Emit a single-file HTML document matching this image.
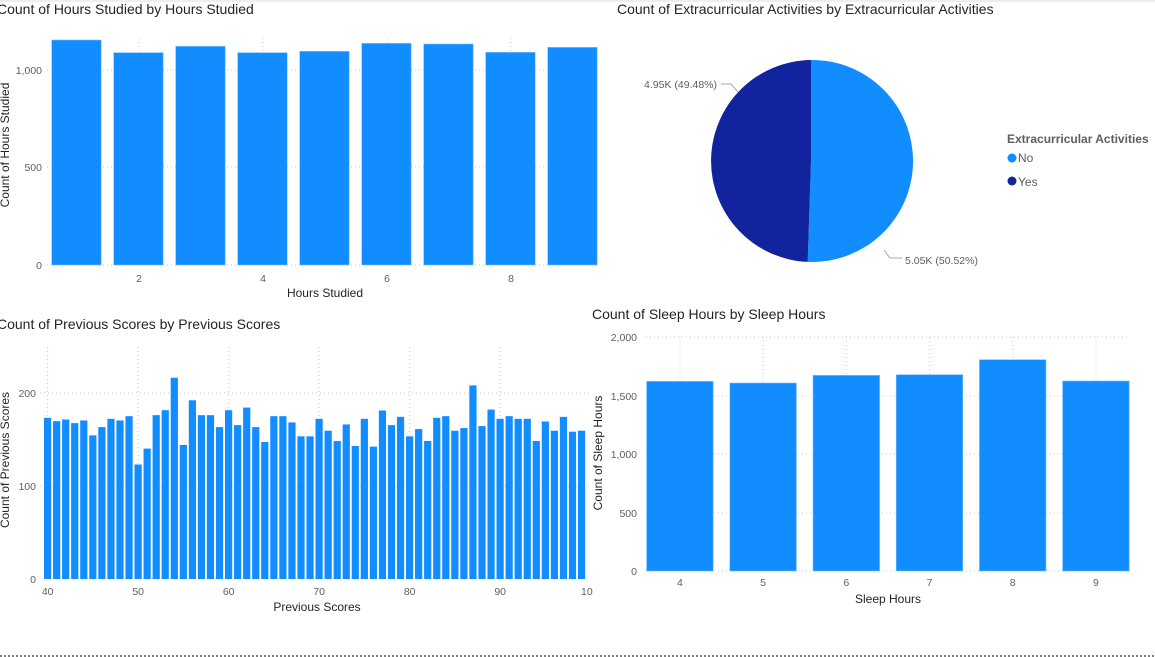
<!DOCTYPE html>
<html><head><meta charset="utf-8">
<style>
html,body{margin:0;padding:0;background:#fff;width:1155px;height:657px;overflow:hidden;font-family:"Liberation Sans",sans-serif;}
svg{display:block}
.t{font-size:14px;fill:#252423}
.k{font-size:10.5px;fill:#605E5C}
.a{font-size:12px;fill:#252423}
.g{stroke:#c8c8c8;stroke-dasharray:1 3;stroke-width:1}
</style></head><body>
<svg id="s" width="1155" height="657" xmlns="http://www.w3.org/2000/svg">
<line x1="0" y1="1" x2="1155" y2="1" stroke="#eeeeee" stroke-width="2"/>
<line x1="0" y1="656" x2="1155" y2="656" stroke="#555" stroke-dasharray="2 2" stroke-width="1.5"/>
<!-- chart 1 -->
<text class="t" x="-3" y="14">Count of Hours Studied by Hours Studied</text>
<g id="c1"></g>
<text class="k" x="42" y="74" text-anchor="end">1,000</text>
<text class="k" x="42" y="171" text-anchor="end">500</text>
<text class="k" x="42" y="269" text-anchor="end">0</text>
<text class="k" x="139" y="320" text-anchor="middle" dy="-38">2</text>
<text class="k" x="263" y="282" text-anchor="middle">4</text>
<text class="k" x="387" y="282" text-anchor="middle">6</text>
<text class="k" x="511" y="282" text-anchor="middle">8</text>
<text class="a" x="325" y="297" text-anchor="middle">Hours Studied</text>
<text class="a" transform="translate(9,145) rotate(-90)" text-anchor="middle">Count of Hours Studied</text>
<!-- chart 3 -->
<text class="t" x="-3" y="329">Count of Previous Scores by Previous Scores</text>
<g id="c3"></g>
<text class="k" x="36" y="397" text-anchor="end">200</text>
<text class="k" x="36" y="490" text-anchor="end">100</text>
<text class="k" x="36" y="583" text-anchor="end">0</text>
<g id="c3x"></g>
<text class="a" x="317" y="611" text-anchor="middle">Previous Scores</text>
<text class="a" transform="translate(9,460) rotate(-90)" text-anchor="middle">Count of Previous Scores</text>
<!-- chart 4 -->
<text class="t" x="592" y="319">Count of Sleep Hours by Sleep Hours</text>
<g id="c4"></g>
<text class="k" x="637" y="341" text-anchor="end">2,000</text>
<text class="k" x="637" y="400" text-anchor="end">1,500</text>
<text class="k" x="637" y="458" text-anchor="end">1,000</text>
<text class="k" x="637" y="517" text-anchor="end">500</text>
<text class="k" x="637" y="575" text-anchor="end">0</text>
<text class="a" x="888" y="603" text-anchor="middle">Sleep Hours</text>
<text class="a" transform="translate(602,453) rotate(-90)" text-anchor="middle">Count of Sleep Hours</text>
<!-- pie -->
<text class="t" x="617" y="14">Count of Extracurricular Activities by Extracurricular Activities</text>
<path d="M811,161 L811,60 A101,101 0 1,1 807.7,261.9 Z" fill="#118DFF"/>
<path d="M811,161 L807.7,261.9 A101,101 0 0,1 811,60 Z" fill="#12239E"/>
<polyline points="721,84 731,84 738,92" fill="none" stroke="#aaa"/>
<polyline points="884,250 890,258 902,258" fill="none" stroke="#aaa"/>
<text class="k" x="717" y="88" text-anchor="end">4.95K (49.48%)</text>
<text class="k" x="905" y="264">5.05K (50.52%)</text>
<text x="1007" y="143" style="font-size:12px;font-weight:bold;fill:#605E5C">Extracurricular Activities</text>
<circle cx="1012" cy="158" r="4.5" fill="#118DFF"/>
<text x="1018" y="162" style="font-size:12px;fill:#605E5C">No</text>
<circle cx="1012" cy="181" r="4.5" fill="#12239E"/>
<text x="1018" y="186" style="font-size:12px;fill:#605E5C">Yes</text>
</svg>
<script>
var NS="http://www.w3.org/2000/svg";
function el(p,t,a){var e=document.createElementNS(NS,t);for(var k in a)e.setAttribute(k,a[k]);document.getElementById(p).appendChild(e);return e;}
// chart1
[70,167].forEach(function(y){el("c1","line",{x1:47,x2:598,y1:y,y2:y,"class":"g"});});
[139,263,387,511].forEach(function(x){el("c1","line",{x1:x,x2:x,y1:38,y2:265,"class":"g"});});
el("c1","line",{x1:47,x2:598,y1:265,y2:265,"class":"g"});
var z1=[120,158,139,158,154,130,132,157,142];
z1.forEach(function(z,i){var y=265-(795-z)*(195/585);el("c1","rect",{x:51.7+i*62,y:y,width:49.5,height:265-y,fill:"#118DFF",stroke:"#7cc0ff","stroke-width":0.6});});
// chart3
[393,486].forEach(function(y){el("c3","line",{x1:40,x2:590,y1:y,y2:y,"class":"g"});});
for(var v=40;v<=90;v+=10){var x=47.7+(v-40)*9.05;el("c3","line",{x1:x,x2:x,y1:347,y2:579,"class":"g"});
el("c3x","text",{x:x,y:595,"class":"k","text-anchor":"middle"}).textContent=v;}
el("c3x","text",{x:581,y:595,"class":"k"}).textContent="10";
var z3=[233,243,238,249,241,286,261,236,241,228,374,326,225,210,112,315,180,225,225,261,210,255,202,261,306,228,228,247,289,289,236,272,303,253,318,236,320,211,255,230,289,267,303,233,228,272,264,135,258,208,236,228,236,236,303,244,272,230,275,272];
z3.forEach(function(z,i){var y=579-(720-z)*(186/562);el("c3","rect",{x:44+i*9.05,y:y,width:7.2,height:579-y,fill:"#118DFF"});});
// chart4
[337,396,454,513,571].forEach(function(y){el("c4","line",{x1:646,x2:1128,y1:y,y2:y,"class":"g"});});
var z4=[243,248,225,223,178,242];
z4.forEach(function(z,i){var cx=680+i*83.2;el("c4","line",{x1:cx,x2:cx,y1:337,y2:571,"class":"g"});});
z4.forEach(function(z,i){var y=571-(812-z)*(234/702);var x=646.6+i*83.2;el("c4","rect",{x:x,y:y,width:66.6,height:571-y,fill:"#118DFF",stroke:"#7cc0ff","stroke-width":0.6});
el("c4","text",{x:x+33.3,y:586,"class":"k","text-anchor":"middle"}).textContent=4+i;});
</script>
</body></html>
